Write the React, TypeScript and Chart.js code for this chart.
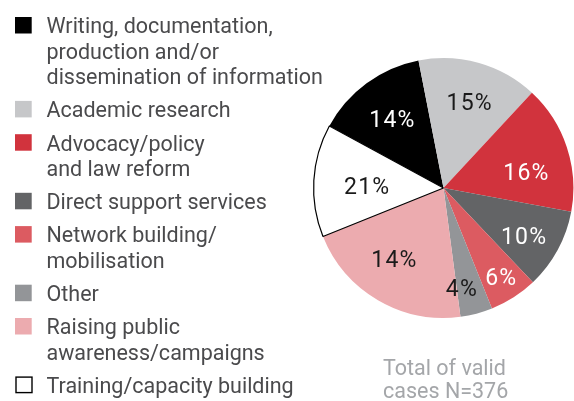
import { useEffect, useRef } from "react";
import { Chart, registerables } from "chart.js";

Chart.register(...registerables);

const categories: string[][] = [
  ["Writing, documentation,", "production and/or", "dissemination of information"],
  ["Academic research"],
  ["Advocacy/policy", "and law reform"],
  ["Direct support services"],
  ["Network building/", "mobilisation"],
  ["Other"],
  ["Raising public", "awareness/campaigns"],
  ["Training/capacity building"],
];
const shares = [14, 15, 16, 10, 6, 4, 21, 14];
const sliceLabels = ["14%", "15%", "16%", "10%", "6%", "4%", "14%", "21%"];
const colors = ["#000000", "#c6c7c9", "#d1333d", "#636466", "#dc5b61", "#939598", "#ecabaf", "#ffffff"];
const labelColors = ["#ffffff", "#1a1a1a", "#ffffff", "#ffffff", "#ffffff", "#1a1a1a", "#1a1a1a", "#1a1a1a"];
const noteLines = ["Total of valid", "cases N=376"];

// label placement inside each slice: [fraction of radius, angular shift in degrees]
const labelPlacement: [number, number][] = [
  [0.663, -0.5],
  [0.69, 0.7],
  [0.646, 7.4],
  [0.718, 2.5],
  [0.815, 0],
  [0.78, 4.6],
  [0.663, 4.9],
  [0.592, -2],
];

const FONT = "Roboto, 'Noto Sans', sans-serif";
const LABEL_SIZE = 23;
const LABEL_SPACING = 1.2;

const sliceLabelPlugin = {
  id: "sliceLabels",
  afterDatasetsDraw(chart: any) {
    const ctx = chart.ctx as CanvasRenderingContext2D;
    const meta = chart.getDatasetMeta(0);
    ctx.save();
    ctx.font = `${LABEL_SIZE}px ${FONT}`;
    (ctx as any).letterSpacing = `${LABEL_SPACING}px`;
    ctx.textAlign = "center";
    ctx.textBaseline = "alphabetic";
    meta.data.forEach((arc: any, i: number) => {
      const { x, y, startAngle, endAngle, outerRadius } = arc.getProps(
        ["x", "y", "startAngle", "endAngle", "outerRadius"],
        true
      );
      const [f, shift] = labelPlacement[i];
      const mid = (startAngle + endAngle) / 2 + (shift * Math.PI) / 180;
      const r = outerRadius * f;
      const cx = x + Math.cos(mid) * r + LABEL_SPACING / 2;
      const cy = y + Math.sin(mid) * r + LABEL_SIZE * 0.355;
      ctx.fillStyle = labelColors[i];
      ctx.fillText(sliceLabels[i], cx, cy);
    });
    ctx.restore();
  },
};

const sideLegendPlugin = {
  id: "sideLegend",
  afterDraw(chart: any) {
    const ctx = chart.ctx as CanvasRenderingContext2D;
    ctx.save();
    ctx.font = `21.5px ${FONT}`;
    ctx.textAlign = "left";
    ctx.textBaseline = "alphabetic";
    const lineH = 25.3;
    const step = 33.3;
    let y = 33.3;
    categories.forEach((lines, i) => {
      if (colors[i] === "#ffffff") {
        ctx.fillStyle = "#ffffff";
        ctx.fillRect(16, y - 15.8, 16, 15.5);
        ctx.strokeStyle = "#000000";
        ctx.lineWidth = 1.4;
        ctx.strokeRect(16, y - 15.8, 16, 15.5);
      } else {
        ctx.fillStyle = colors[i];
        ctx.fillRect(15, y - 16.3, 16.7, 16.5);
      }
      ctx.fillStyle = "#4a4a4c";
      lines.forEach((t, j) => ctx.fillText(t, 46.5, y + j * lineH));
      y += step + (lines.length - 1) * lineH;
    });
    ctx.fillStyle = "#a4a6a9";
    ctx.fillText(noteLines[0], 383, 375);
    ctx.fillText(noteLines[1], 383, 398);
    ctx.restore();
  },
};

export default function App() {
  const ref = useRef<HTMLCanvasElement | null>(null);
  useEffect(() => {
    if (!ref.current) return;
    const chart = new Chart(ref.current, {
      type: "pie",
      data: {
        labels: categories.map((l) => l.join(" ")),
        datasets: [
          {
            data: shares,
            backgroundColor: colors,
            borderColor: colors.map((c) => (c === "#ffffff" ? "#000000" : c)),
            borderWidth: colors.map((c) => (c === "#ffffff" ? 1.2 : 0)),
          },
        ],
      },
      options: {
        animation: false,
        responsive: false,
        rotation: 298.5,
        layout: { padding: { left: 313, top: 57, right: 0, bottom: 82 } },
        plugins: {
          legend: { display: false },
          tooltip: { enabled: false },
        },
        events: [],
      },
      plugins: [sliceLabelPlugin, sideLegendPlugin],
    });
    return () => chart.destroy();
  }, []);
  return (
    <div style={{ position: "fixed", left: 0, top: 0, width: 574, height: 401, background: "#ffffff" }}>
      <canvas ref={ref} width={574} height={401} style={{ width: 574, height: 401, display: "block" }} />
    </div>
  );
}
